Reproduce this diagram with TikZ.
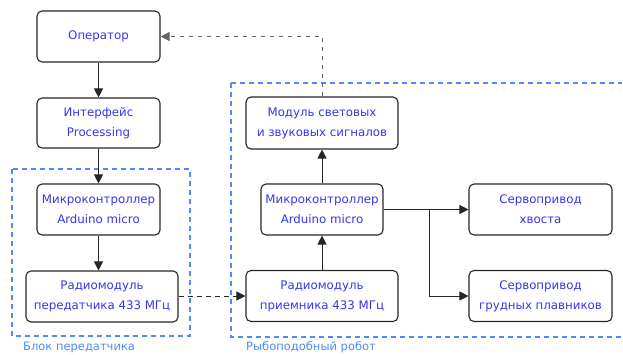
\documentclass[tikz,border=0pt]{standalone}
\usepackage{fontspec}
\setmainfont{DejaVu Sans}
\usetikzlibrary{arrows.meta}
\definecolor{txtblue}{HTML}{3535F0}
\definecolor{regblue}{HTML}{4A8CFF}
\begin{document}
\begin{tikzpicture}[x=1pt,y=-1pt,
  blk/.style={draw=black!85,line width=1.1pt,rounded corners=5pt,align=center,
    text=txtblue,font=\fontsize{11.8}{20}\selectfont,inner sep=0pt},
  region/.style={draw=regblue,line width=1.1pt,dash pattern=on 5pt off 4pt},
  reglabel/.style={text=regblue,font=\fontsize{11.5}{12}\selectfont,anchor=base west,inner sep=0pt},
  arr/.style={draw=black!85,line width=0.9pt,-{Triangle[length=9pt,width=9pt]}},
  darr/.style={arr,dash pattern=on 5pt off 4pt},
  garr/.style={arr,draw=black!60,dash pattern=on 4pt off 5pt}]
\useasboundingbox (0,0) rectangle (623,354);
% regions
\draw[region] (12,169) rectangle (190,336);
\draw[region] (231,83) -- (622,83);
\draw[region] (231,83) -- (231,337) -- (622,337);
\node[reglabel] (lblL) at (23,350) {Блок передатчика};
\node[reglabel] (lblR) at (246,350) {Рыбоподобный робот};
% blocks
\node[blk,minimum width=123pt,minimum height=51pt] (op) at (98.5,36.5) {Оператор};
\node[blk,minimum width=123pt,minimum height=50pt] (ifc) at (98.5,123) {Интерфейс\\Processing};
\node[blk,minimum width=123pt,minimum height=51pt] (mcL) at (98.5,209.5) {Микроконтроллер\\Arduino micro};
\node[blk,minimum width=152pt,minimum height=51pt] (radL) at (102,296.5) {Радиомодуль\\передатчика 433 МГц};
\node[blk,minimum width=152pt,minimum height=52pt] (mod) at (322,123) {Модуль световых\\и звуковых сигналов};
\node[blk,minimum width=122pt,minimum height=51pt] (mcR) at (322,209.5) {Микроконтроллер\\Arduino micro};
\node[blk,minimum width=152pt,minimum height=51pt] (radR) at (322,296) {Радиомодуль\\приемника 433 МГц};
\node[blk,minimum width=143pt,minimum height=51pt] (srvT) at (540.5,209.5) {Сервопривод\\хвоста};
\node[blk,minimum width=143pt,minimum height=51pt] (srvP) at (540.5,296) {Сервопривод\\грудных плавников};
% connectors
\draw[arr] (op) -- (ifc);
\draw[arr] (ifc) -- (mcL);
\draw[arr] (mcL) -- (mcL |- radL.north);
\draw[darr] (radL.east |- radR.west) -- (radR.west);
\draw[arr] (radR) -- (mcR);
\draw[arr] (mcR) -- (mod);
\draw[arr] (mcR.east) -- (srvT.west);
\coordinate (br) at (429,209.5);
\draw[arr] (br) |- (srvP.west);
\draw[garr] (mod.north) |- (op.east);
\end{tikzpicture}
\end{document}
